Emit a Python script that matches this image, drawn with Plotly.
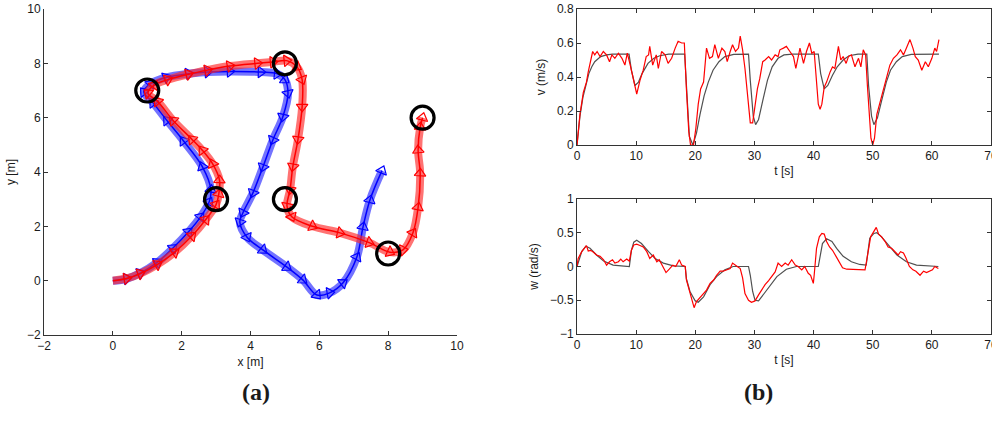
import plotly.graph_objects as go

# ---------------- data ----------------
# trajectory (a)
blue_x = [0, 0.4, 0.8, 1.3, 1.75, 2.2, 2.55, 2.8, 2.85, 2.6, 2.05, 1.57, 1.17, 0.9, 1.1, 1.55, 2.2, 2.75,
          3.4, 4.3, 4.77, 5.0, 5.09, 4.94, 4.65, 4.36, 4.07, 3.78, 3.69, 3.9, 4.36, 5.06, 5.52, 5.93, 6.3,
          6.69, 7.09, 7.27, 7.47, 7.82]
blue_y = [0, 0.07, 0.28, 0.68, 1.2, 1.8, 2.35, 2.9, 3.35, 4.2, 5.15, 5.9, 6.55, 6.95, 7.25, 7.48, 7.62, 7.68,
          7.7, 7.68, 7.62, 7.4, 6.9, 6.03, 5.18, 4.18, 3.23, 2.5, 2.16, 1.6, 1.13, 0.5, 0.03, -0.53, -0.45,
          -0.08, 0.87, 1.98, 2.97, 4.05]
red_x = [0, 0.4, 0.8, 1.3, 1.8, 2.3, 2.7, 3.0, 3.08, 3.1, 2.9, 2.6, 2.3, 1.75, 1.3, 1.02, 1.2, 1.6, 2.2, 2.75,
         3.4, 4.2, 4.65, 5.05, 5.35, 5.5, 5.5, 5.38, 5.23, 5.15, 5.06, 5.2, 5.8, 6.6, 7.45, 8.05, 8.43, 8.72,
         8.87, 8.93, 8.87, 8.93, 9.0]
red_y = [0, 0.08, 0.26, 0.6, 1.05, 1.65, 2.25, 2.8, 3.2, 3.7, 4.3, 4.8, 5.2, 5.9, 6.6, 6.9, 7.2, 7.4, 7.6, 7.75,
         7.9, 8.0, 8.05, 8.1, 7.87, 7.4, 6.4, 5.2, 4.2, 3.35, 2.75, 2.35, 2.0, 1.76, 1.4, 1.05, 1.13, 1.76,
         2.7, 3.95, 4.8, 5.65, 6.0]
wp_x = [1, 5, 3, 5, 8, 9]
wp_y = [7, 8, 3, 3, 1, 6]

# v(t) reference (black) and measured (red)
vref_t = [0, 0.5, 1, 1.5, 2, 2.5, 3, 4, 5, 6, 8.8, 9.2, 9.8, 10.4, 11, 12, 13, 14, 15.5, 18.2, 18.4, 19.0,
          19.6, 20.2, 20.8, 21.5, 22.2, 23, 24, 25, 26.5, 29.0, 29.3, 29.8, 30.2, 30.7, 31.4, 32.2, 33, 34,
          35, 36.5, 40.8, 41.2, 41.8, 42.4, 43.2, 44, 45, 46, 47.5, 49, 49.3, 49.8, 50.2, 50.8, 51.5, 52.3,
          53, 54, 55, 56.5, 61.2]
vref_v = [0, 0.17, 0.28, 0.36, 0.42, 0.46, 0.49, 0.52, 0.53, 0.535, 0.535, 0.44, 0.35, 0.37, 0.42, 0.48,
          0.51, 0.525, 0.535, 0.535, 0.4, 0.05, 0.0, 0.07, 0.18, 0.29, 0.37, 0.44, 0.49, 0.52, 0.533, 0.535,
          0.38, 0.17, 0.12, 0.15, 0.26, 0.38, 0.46, 0.51, 0.53, 0.535, 0.535, 0.42, 0.33, 0.35, 0.41, 0.46,
          0.5, 0.525, 0.535, 0.535, 0.35, 0.17, 0.12, 0.16, 0.26, 0.37, 0.44, 0.49, 0.52, 0.533, 0.535]
v_t = [0, 0.5, 1.07, 1.6, 1.9, 2.2, 2.65, 3.0, 3.4, 3.9, 4.45, 5.0, 5.5, 5.9, 6.4, 7.0, 7.6, 8.1, 8.5, 9.0,
       9.5, 10.1, 10.65, 11.2, 11.7, 12.1, 12.3, 12.8, 13.4, 13.75, 14.3, 14.9, 15.4, 16.0, 16.6, 17.1, 17.7,
       18.15, 18.5, 18.9, 19.2, 19.7, 20.1, 20.5, 20.9, 21.4, 21.9, 22.4, 22.9, 23.3, 23.9, 24.5, 25.0, 25.4,
       25.9, 26.3, 26.8, 27.3, 27.6, 28.0, 28.4, 28.8, 29.3, 29.7, 30.1, 30.5, 30.9, 31.4, 31.8, 32.4, 32.9,
       33.5, 34.0, 34.3, 34.9, 35.4, 36.0, 36.6, 37.0, 37.7, 38.3, 38.8, 39.3, 39.7, 40.1, 40.4, 40.6, 40.8,
       41.1, 41.4, 41.8, 42.2, 42.8, 43.2, 43.6, 44.2, 44.6, 45.0, 45.5, 45.9, 46.4, 47.0, 47.6, 48.0, 48.4,
       48.8, 49.1, 49.4, 49.7, 50.0, 50.3, 50.7, 51.2, 51.8, 52.4, 52.9, 53.5, 54.1, 54.7, 55.2, 55.7, 56.3,
       56.8, 57.2, 57.7, 58.3, 58.9, 59.4, 60.0, 60.5, 60.8, 61.2]
v_v = [0, 0.18, 0.31, 0.37, 0.43, 0.48, 0.55, 0.53, 0.55, 0.52, 0.55, 0.53, 0.49, 0.53, 0.51, 0.54, 0.51,
       0.47, 0.54, 0.47, 0.39, 0.30, 0.38, 0.44, 0.52, 0.53, 0.58, 0.47, 0.53, 0.45, 0.55, 0.53, 0.48, 0.51,
       0.57, 0.61, 0.60, 0.60, 0.33, 0.08, 0.0, 0.0, 0.10, 0.24, 0.33, 0.37, 0.57, 0.51, 0.52, 0.59, 0.51,
       0.57, 0.55, 0.49, 0.55, 0.59, 0.55, 0.57, 0.64, 0.56, 0.45, 0.29, 0.13, 0.13, 0.24, 0.33, 0.39, 0.49,
       0.50, 0.52, 0.50, 0.53, 0.52, 0.56, 0.57, 0.58, 0.55, 0.52, 0.45, 0.57, 0.48, 0.55, 0.60, 0.54, 0.55,
       0.43, 0.33, 0.24, 0.21, 0.24, 0.34, 0.37, 0.43, 0.46, 0.45, 0.58, 0.50, 0.52, 0.48, 0.52, 0.53, 0.46,
       0.51, 0.46, 0.56, 0.53, 0.35, 0.16, 0.04, 0.0, 0.04, 0.18, 0.25, 0.33, 0.40, 0.47, 0.51, 0.53, 0.56,
       0.53, 0.57, 0.62, 0.57, 0.52, 0.50, 0.44, 0.49, 0.46, 0.51, 0.57, 0.55, 0.62]

# w(t) reference (black) and measured (red)
wref_t = [0, 0.8, 1.5, 2.2, 3.3, 4.5, 6.1, 8.85, 9.2, 9.6, 10.1, 10.9, 12.1, 13.2, 14.6, 16.3, 18.3, 18.5,
          19.1, 20.0, 20.5, 21.4, 22.5, 23.6, 25.0, 26.4, 29.0, 29.3, 29.7, 30.1, 30.7, 31.5, 32.6, 33.8,
          35.4, 37.1, 40.8, 41.1, 41.5, 42.2, 43.1, 43.9, 45.0, 46.4, 47.8, 48.9, 49.2, 49.5, 50.2, 50.7,
          51.5, 52.6, 54.1, 55.7, 57.4, 61.1]
wref_w = [0, 0.22, 0.30, 0.27, 0.17, 0.08, 0.02, 0, 0.24, 0.36, 0.39, 0.34, 0.22, 0.12, 0.05, 0.01, 0, -0.18,
          -0.37, -0.51, -0.53, -0.45, -0.27, -0.15, -0.05, 0, 0, -0.13, -0.37, -0.50, -0.51, -0.42, -0.28,
          -0.15, -0.04, 0, 0, 0.17, 0.34, 0.41, 0.37, 0.27, 0.15, 0.07, 0.03, 0.02, 0.22, 0.42, 0.49, 0.50,
          0.44, 0.32, 0.17, 0.07, 0.02, 0]
w_t = [0, 0.2, 0.8, 1.35, 1.6, 1.9, 2.3, 2.8, 3.3, 3.9, 4.5, 5.0, 5.5, 6.0, 6.4, 7.0, 7.4, 7.8, 8.4, 8.85,
       9.2, 9.6, 10.1, 10.65, 11.2, 11.8, 12.3, 12.9, 13.5, 13.9, 14.5, 15.05, 15.6, 16.2, 16.7, 17.3, 17.7,
       18.3, 18.5, 19.0, 19.4, 19.8, 20.2, 20.8, 21.4, 21.9, 22.5, 23.1, 23.6, 24.2, 24.7, 25.3, 25.9, 26.3,
       26.7, 27.1, 27.6, 28.0, 28.4, 29.0, 29.5, 30.1, 30.7, 31.2, 31.8, 32.4, 32.9, 33.5, 34.0, 34.6, 35.2,
       35.7, 36.3, 36.9, 37.4, 38.0, 38.5, 39.1, 39.5, 39.96, 40.1, 40.5, 40.97, 41.4, 41.8, 42.2, 42.7,
       43.2, 43.8, 44.4, 44.9, 45.6, 46.4, 47.3, 48.0, 48.7, 49.0, 49.3, 49.65, 50.2, 50.6, 51.0, 51.5,
       52.1, 52.6, 53.2, 53.8, 54.3, 54.7, 55.2, 55.6, 56.2, 56.8, 57.3, 58.0, 58.6, 59.1, 59.7, 60.1,
       60.5, 61.1]
w_w = [0, 0.12, 0.22, 0.29, 0.31, 0.23, 0.24, 0.21, 0.17, 0.15, 0.10, 0.02, 0.07, 0.10, 0.05, 0.07, 0.11,
       0.07, 0.11, 0.08, 0.24, 0.32, 0.33, 0.31, 0.29, 0.22, 0.12, 0.17, 0.07, 0.10, 0, -0.09, -0.04, 0.02,
       0, 0.10, 0.02, 0, -0.20, -0.37, -0.47, -0.61, -0.52, -0.46, -0.41, -0.35, -0.25, -0.20, -0.13, -0.07,
       -0.07, -0.05, -0.03, 0.05, 0.03, 0, -0.03, -0.17, -0.40, -0.50, -0.53, -0.51, -0.42, -0.35, -0.27,
       -0.21, -0.15, -0.08, 0.05, 0, 0.05, 0.02, 0.10, 0.02, 0, -0.05, 0, -0.10, -0.13, -0.25, -0.13, 0.27,
       0.44, 0.49, 0.48, 0.37, 0.29, 0.24, 0.15, 0.05, -0.02, -0.04, -0.04, -0.04, -0.05, -0.05, 0.10, 0.27,
       0.44, 0.52, 0.58, 0.48, 0.44, 0.37, 0.29, 0.27, 0.22, 0.17, 0.22, 0.20, 0.13, 0, -0.05, -0.07, -0.13,
       -0.07, -0.09, -0.07, -0.05, 0, -0.03]

# ---------------- figure ----------------
TXT = "#1a1a1a"
AX = "#333333"
FONT = "Liberation Sans, Arial, sans-serif"

fig = go.Figure()

def path_traces(xs, ys, col, band):
    fig.add_trace(go.Scatter(x=xs, y=ys, mode="lines", line=dict(color=band, width=8, shape="spline"),
                             xaxis="x", yaxis="y", hoverinfo="skip"))
    fig.add_trace(go.Scatter(x=xs, y=ys, mode="lines+markers",
                             line=dict(color=col, width=1.5, shape="spline"),
                             marker=dict(symbol="triangle-up-open", size=10, angleref="previous",
                                         color=col, line=dict(color=col, width=1.2)),
                             xaxis="x", yaxis="y"))

path_traces(blue_x, blue_y, "rgb(0,0,255)", "rgba(40,40,255,0.65)")
path_traces(red_x, red_y, "rgb(255,0,0)", "rgba(255,40,40,0.65)")
fig.add_trace(go.Scatter(x=wp_x, y=wp_y, mode="markers",
                         marker=dict(symbol="circle-open", size=23, color="black", line=dict(color="black", width=3.2)),
                         xaxis="x", yaxis="y"))

fig.add_trace(go.Scatter(x=vref_t, y=vref_v, mode="lines", line=dict(color="#505050", width=1.2),
                         xaxis="x2", yaxis="y2"))
fig.add_trace(go.Scatter(x=v_t, y=v_v, mode="lines", line=dict(color="rgb(255,0,0)", width=1.2),
                         xaxis="x2", yaxis="y2"))
fig.add_trace(go.Scatter(x=wref_t, y=wref_w, mode="lines", line=dict(color="#505050", width=1.2),
                         xaxis="x3", yaxis="y3"))
fig.add_trace(go.Scatter(x=w_t, y=w_w, mode="lines", line=dict(color="rgb(255,0,0)", width=1.2),
                         xaxis="x3", yaxis="y3"))

W, H = 992, 427

def px_dom_x(a, b):
    return [a / W, b / W]

def px_dom_y(top, bottom):
    return [1 - bottom / H, 1 - top / H]

common = dict(showgrid=False, zeroline=False, showline=True, linecolor=AX, linewidth=1, automargin=False,
              ticks="inside", ticklen=4, tickcolor=AX, ticklabeloverflow="allow",
              tickfont=dict(size=12, color=TXT, family=FONT))

fig.update_layout(
    width=W, height=H, margin=dict(l=0, r=0, t=0, b=0, autoexpand=False),
    paper_bgcolor="white", plot_bgcolor="white", showlegend=False,
    font=dict(family=FONT, color=TXT, size=12),
    xaxis=dict(domain=px_dom_x(44, 457), range=[-2, 10], dtick=2, anchor="y",
               title=dict(text="x [m]", font=dict(size=12), standoff=5), **common),
    yaxis=dict(domain=px_dom_y(9, 335), range=[-2, 10], dtick=2, anchor="x",
               title=dict(text="y [m]", font=dict(size=12), standoff=8), **common),
    xaxis2=dict(domain=px_dom_x(577, 991), range=[0, 70], dtick=10, anchor="y2", mirror="ticks",
                title=dict(text="t [s]", font=dict(size=12), standoff=4), **common),
    yaxis2=dict(domain=px_dom_y(9, 145), range=[0, 0.8], dtick=0.2, anchor="x2", mirror="ticks",
                title=dict(text="v (m/s)", font=dict(size=12), standoff=8), **common),
    xaxis3=dict(domain=px_dom_x(577, 991), range=[0, 70], dtick=10, anchor="y3", mirror="ticks",
                title=dict(text="t [s]", font=dict(size=12), standoff=4), **common),
    yaxis3=dict(domain=px_dom_y(199, 334), range=[-1, 1], dtick=0.5, anchor="x3", mirror="ticks",
                title=dict(text="w (rad/s)", font=dict(size=12), standoff=8), **common),
    annotations=[
        dict(text="<b>(a)</b>", x=240 / W, y=1 - 407 / H, xref="paper", yref="paper", showarrow=False,
             font=dict(family="Liberation Serif, Times New Roman, serif", size=24, color=TXT)),
        dict(text="<b>(b)</b>", x=775 / W, y=1 - 407 / H, xref="paper", yref="paper", showarrow=False,
             font=dict(family="Liberation Serif, Times New Roman, serif", size=24, color=TXT)),
    ],
)

fig.write_html("out.html")
